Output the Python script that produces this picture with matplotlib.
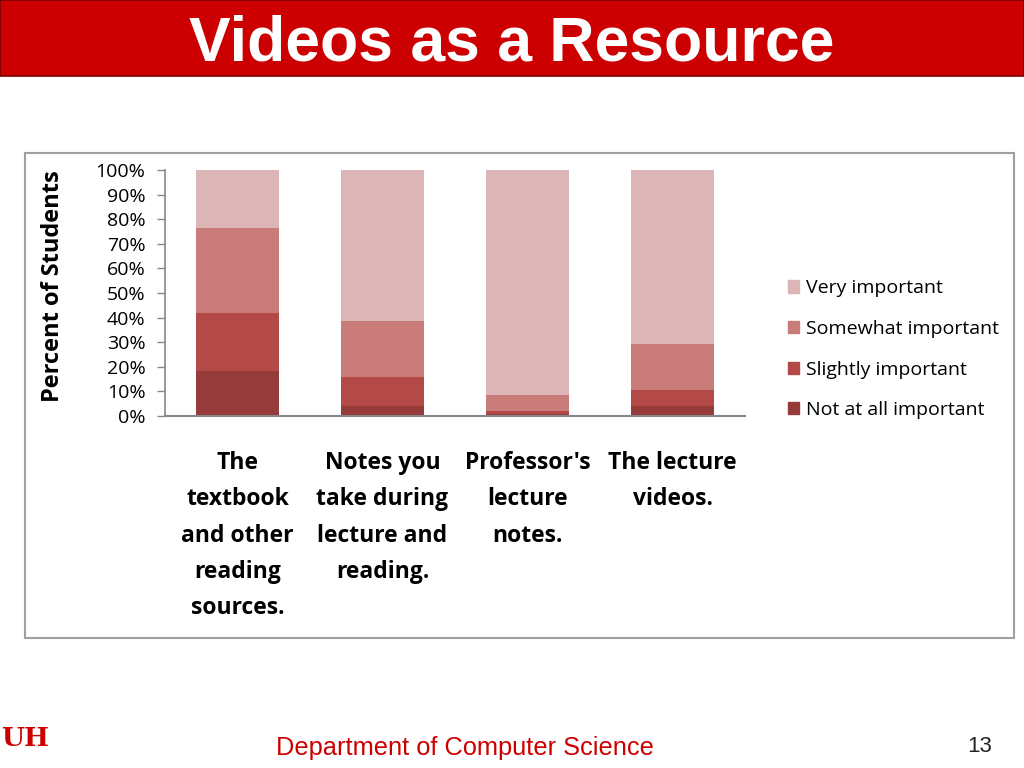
import matplotlib.pyplot as plt
import matplotlib.patches as mpatches
import numpy as np

# данные: процент студентов по каждой категории важности
categories = ["The\ntextbook\nand other\nreading\nsources.",
              "Notes you\ntake during\nlecture and\nreading.",
              "Professor's\nlecture\nnotes.",
              "The lecture\nvideos."]
not_at_all = [18.2, 4.1, 1.0, 4.1]
slightly = [23.7, 11.9, 1.0, 6.5]
somewhat = [34.6, 22.8, 6.4, 18.5]
very = [23.5, 61.2, 91.6, 70.9]

series_names = ["Not at all important", "Slightly important",
                "Somewhat important", "Very important"]
colors = ["#953b3a", "#b44a48", "#c97b7a", "#dcb6b6"]
y_ticks = [0, 10, 20, 30, 40, 50, 60, 70, 80, 90, 100]

fig = plt.figure(figsize=(10.24, 7.68), dpi=100)

# заголовок слайда
fig.patches.append(mpatches.Rectangle((0, 1 - 76 / 768), 1, 76 / 768, transform=fig.transFigure,
                                      facecolor="#cc0000", edgecolor="#7a0000", lw=1.2,
                                      zorder=-10))
fig.text(0.5, 1 - 44 / 768, "Videos as a Resource", color="white", fontsize=45,
         fontweight="bold", family="Liberation Sans", ha="center", va="center")

# рамка диаграммы
fig.patches.append(mpatches.Rectangle((25 / 1024, 1 - 638 / 768), 989 / 1024, 485 / 768,
                                      transform=fig.transFigure, facecolor="white",
                                      edgecolor="#a0a0a0", lw=1.5, zorder=-10))

ax = fig.add_axes([165 / 1024, 1 - 416 / 768, 580 / 1024, 246 / 768])
ax.patch.set_alpha(0)
x = np.arange(len(categories))
bottom = np.zeros(len(categories))
for vals, name, c in zip([not_at_all, slightly, somewhat, very], series_names, colors):
    ax.bar(x, vals, 0.57, bottom=bottom, color=c, label=name, edgecolor="none")
    bottom += np.array(vals)

ax.set_xlim(-0.5, 3.5)
ax.set_ylim(0, 100)
ax.set_yticks(y_ticks)
ax.set_yticklabels([f"{t}%" for t in y_ticks], family="Open Sans", fontsize=14)
ax.set_xticks(x)
ax.set_xticklabels(categories, family="Open Sans", fontweight="bold", fontsize=16.5,
                   linespacing=1.69, va="top")
ax.tick_params(axis="x", length=0, pad=25)
ax.tick_params(axis="y", length=6, color="#888888", width=1, pad=8)
for s in ["top", "right"]:
    ax.spines[s].set_visible(False)
ax.spines["left"].set_color("#888888")
ax.spines["bottom"].set_color("#888888")
ax.spines["left"].set_linewidth(1.2)
ax.spines["bottom"].set_linewidth(1.5)
ax.set_ylabel("Percent of Students", family="Open Sans", fontweight="bold", fontsize=17)
ax.yaxis.set_label_coords(-0.173, 0.526)

leg_handles = [mpatches.Patch(color=c) for c in colors][::-1]
fig.legend(leg_handles, series_names[::-1], loc="upper left",
           bbox_to_anchor=(770 / 1024, 1 - 262 / 768), frameon=False,
           prop={"family": "Open Sans", "size": 14}, handlelength=0.6, handleheight=0.6,
           handletextpad=0.35, labelspacing=1.16)

# нижний колонтитул
fig.text(465 / 1024, 1 - 748 / 768, "Department of Computer Science", color="#cc0000",
         fontsize=18.3, family="Liberation Sans", ha="center", va="center")
fig.text(980 / 1024, 1 - 746 / 768, "13", color="#222222", fontsize=16,
         family="Liberation Sans", ha="center", va="center")
fig.text(1 / 1024, 1 - 739 / 768, "UH", color="#cc0000", fontsize=19, fontweight="bold",
         family="DejaVu Serif", ha="left", va="center")

fig.savefig("out.png", dpi=100)
